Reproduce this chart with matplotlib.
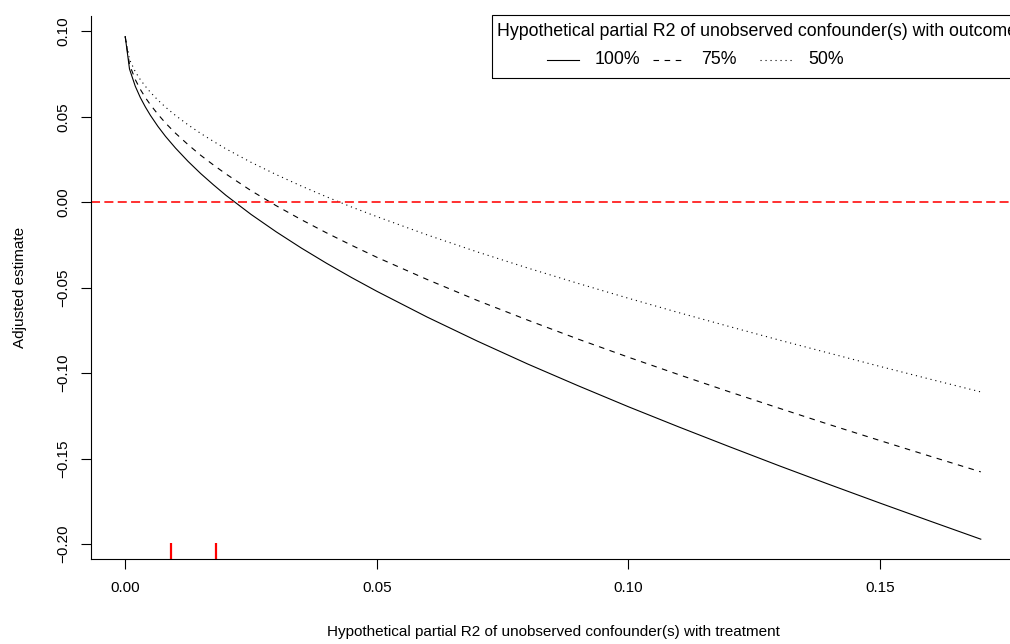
import numpy as np
import matplotlib
matplotlib.use('Agg')
import matplotlib.pyplot as plt
from matplotlib.patches import Rectangle
from matplotlib.lines import Line2D

plt.rcParams['font.family'] = ['Liberation Sans', 'DejaVu Sans']

# values
r2dz = [0, 0.00085, 0.002, 0.003, 0.004, 0.005, 0.0065, 0.008, 0.01, 0.0125,
        0.015, 0.0175, 0.02, 0.025, 0.03, 0.035, 0.04, 0.045, 0.05, 0.06,
        0.07, 0.08, 0.09, 0.10, 0.11, 0.12, 0.13, 0.14, 0.15, 0.16, 0.17]
adj_100 = [0.0970, 0.0780, 0.0679, 0.0613, 0.0558, 0.0509, 0.0444, 0.0386, 0.0317, 0.0239,
           0.0168, 0.0103, 0.0041, -0.0071, -0.0173, -0.0268, -0.0357, -0.0441, -0.0521, -0.0672,
           -0.0813, -0.0947, -0.1074, -0.1197, -0.1315, -0.1430, -0.1543, -0.1653, -0.1761, -0.1867,
           -0.1972]
adj_75 = [0.0970, 0.0806, 0.0718, 0.0661, 0.0613, 0.0571, 0.0515, 0.0464, 0.0404, 0.0337,
          0.0275, 0.0219, 0.0166, 0.0068, -0.0020, -0.0102, -0.0179, -0.0252, -0.0322, -0.0452,
          -0.0575, -0.0690, -0.0801, -0.0907, -0.1009, -0.1109, -0.1206, -0.1302, -0.1395, -0.1487,
          -0.1578]
adj_50 = [0.0970, 0.0836, 0.0764, 0.0718, 0.0679, 0.0644, 0.0598, 0.0557, 0.0508, 0.0453,
          0.0403, 0.0357, 0.0313, 0.0234, 0.0162, 0.0095, 0.0032, -0.0028, -0.0084, -0.0191,
          -0.0291, -0.0385, -0.0475, -0.0562, -0.0646, -0.0727, -0.0807, -0.0884, -0.0961, -0.1036,
          -0.1110]
rug_x = [0.009, 0.018]
xticks = [0.00, 0.05, 0.10, 0.15]
yticks = [0.10, 0.05, 0.00, -0.05, -0.10, -0.15, -0.20]
legend_labels = ['100%', '75%', '50%']

W, H = 1010, 644
fig = plt.figure(figsize=(W / 100, H / 100), dpi=100)
ax = fig.add_axes([91 / W, 1 - 559 / H, 924 / W, (559 - 16.4) / H])

styles = ['-', (0, (5, 5)), (0, (1, 3.5))]
for ys, ls in zip([adj_100, adj_75, adj_50], styles):
    ax.plot(r2dz, ys, color='black', lw=0.8, linestyle=ls)

ax.axhline(0, color='#ff2020', lw=1.3, linestyle=(0, (5, 2.4)))
ax.vlines(rug_x, 0, 0.03, color='red', lw=1.6, transform=ax.get_xaxis_transform())

ax.set_xlim(-0.0068, 0.1768)
ax.set_ylim(-0.2088, 0.1088)
ax.set_xticks(xticks)
ax.set_xticklabels([f'{v:.2f}' for v in xticks])
ax.set_yticks(yticks)
ax.set_yticklabels([f'{v:.2f}'.replace('-', '\u2212') for v in yticks],
                   rotation=90, va='center')
ax.tick_params(length=7, width=0.8, labelsize=11, pad=9)
ax.tick_params(axis='y', pad=8)
for s in ['top', 'right']:
    ax.spines[s].set_visible(False)
for s in ['left', 'bottom']:
    ax.spines[s].set_linewidth(0.8)

ax.set_xlabel('Hypothetical partial R2 of unobserved confounder(s) with treatment', fontsize=11)
ax.set_ylabel('Adjusted estimate', fontsize=11)
ax.xaxis.set_label_coords(0.5, (559 - 632) / 542.6)
ax.xaxis.label.set_va('center')
ax.yaxis.set_label_coords((20 - 91) / 924, 0.5)
ax.yaxis.label.set_va('center')

# legend drawn by hand to follow the R layout
def fx(x):
    return x / W

def fy(y):
    return 1 - y / H

fig.add_artist(Rectangle((fx(492), fy(78)), fx(1040) - fx(492), fy(15) - fy(78),
                         transform=fig.transFigure, fill=False, ec='black', lw=0.8))
fig.text(fx(497), fy(32), 'Hypothetical partial R2 of unobserved confounder(s) with outcome',
         fontsize=12.8, va='center', ha='left')
entry_x = [547, 653, 760]
for ex, ls, lab in zip(entry_x, styles, legend_labels):
    fig.add_artist(Line2D([fx(ex), fx(ex + 32)], [fy(60), fy(60)], color='black',
                          lw=0.8, linestyle=ls, transform=fig.transFigure))
    fig.text(fx(ex + 48), fy(60), lab, fontsize=12.8, va='center', ha='left')

fig.savefig('out.png', dpi=100)
